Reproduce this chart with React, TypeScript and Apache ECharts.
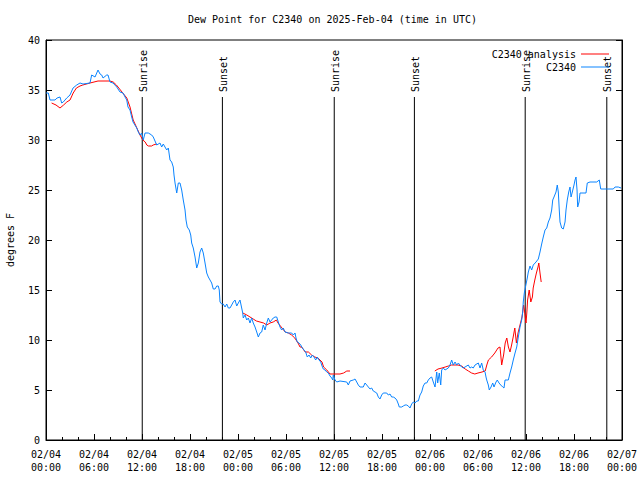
import React, { useEffect, useRef } from "react";
import * as echarts from "echarts";

// hours since 2025-02-04 00:00 UTC
const obsHours = [
  0.0, 0.29, 0.5, 1.13, 1.38, 1.75, 1.96, 2.16, 2.59, 3.0, 3.38, 3.84, 4.25, 4.63, 5.5, 5.71, 6.13, 6.5, 6.75, 6.96,
  7.13, 7.59, 7.75, 8.0, 8.38, 8.84, 9.25, 9.63, 9.88, 10.09, 10.25, 10.5, 10.71, 10.88, 11.34, 11.54, 11.75, 11.96,
  12.16, 12.38, 12.79, 13.21, 13.41, 13.84, 14.25, 14.46, 14.66, 15.09, 15.29, 15.5, 15.71, 15.91, 16.0, 16.13, 16.34,
  16.54, 16.75, 16.96, 17.16, 17.38, 17.5, 17.66, 17.91, 18.09, 18.21, 18.41, 18.63, 18.84, 19.04, 19.25, 19.46, 19.66,
  19.88, 20.09, 20.29, 20.5, 20.71, 20.91, 21.13, 21.34, 21.54, 21.66, 21.75, 21.96, 22.16, 22.38, 22.59, 22.79, 23.0,
  23.21, 23.41, 23.63, 23.84, 24.04, 24.25, 24.46, 24.59, 24.66, 24.88, 25.09, 25.29, 25.5, 25.71, 25.91, 26.13, 26.34,
  26.54, 26.75, 26.96, 27.16, 27.38, 27.59, 27.79, 28.0, 28.21, 28.41, 28.63, 28.84, 29.04, 29.25, 29.46, 29.66, 29.88,
  30.29, 30.71, 30.91, 31.13, 31.25, 31.41, 31.63, 31.84, 32.04, 32.25, 32.46, 32.66, 32.88, 33.09, 33.29, 33.5, 33.71,
  33.91, 34.13, 34.34, 34.46, 34.66, 34.88, 35.09, 35.29, 35.5, 35.71, 35.84, 35.91, 36.13, 36.34, 36.75, 37.59, 37.79,
  38.0, 38.41, 38.63, 38.84, 39.04, 39.25, 39.66, 39.88, 40.09, 40.29, 40.5, 40.71, 40.91, 41.13, 41.34, 41.54, 41.75,
  41.96, 42.16, 42.59, 42.79, 43.0, 43.21, 43.41, 43.63, 43.84, 44.04, 44.16, 44.46, 44.66, 44.88, 45.09, 45.29, 45.5,
  45.71, 45.91, 46.13, 46.34, 46.54, 46.75, 46.96, 47.16, 47.38, 47.59, 47.79, 48.0, 48.21, 48.41, 48.63, 48.84, 48.96,
  49.16, 49.34, 49.46, 49.66, 49.88, 50.29, 50.5, 50.71, 50.91, 51.13, 51.34, 51.54, 51.75, 51.96, 52.16, 52.38, 52.79,
  53.0, 53.21, 53.41, 53.63, 54.04, 54.25, 54.46, 54.66, 54.88, 55.0, 55.09, 55.29, 55.41, 55.63, 55.84, 56.0, 56.25,
  56.41, 56.63, 56.84, 57.09, 57.25, 57.38, 57.79, 58.0, 58.21, 58.41, 58.63, 58.84, 59.04, 59.25, 59.46, 59.59, 59.66,
  59.79, 59.96, 60.16, 60.29, 60.5, 60.71, 60.91, 61.25, 61.54, 61.75, 61.96, 62.16, 62.38, 62.59, 62.79, 63.0, 63.21,
  63.34, 63.5, 63.75, 63.91, 64.04, 64.16, 64.25, 64.46, 64.66, 64.88, 65.0, 65.16, 65.34, 65.5, 65.63, 65.79, 66.0,
  66.13, 66.25, 66.38, 66.46, 66.63, 66.75, 67.5, 67.66, 68.0, 68.84, 69.16, 69.34, 70.09, 70.91, 71.13, 71.54, 71.88,
];
const obsValues = [
  34.7, 34.7, 34.0, 34.0, 34.2, 34.3, 33.7, 33.8, 34.2, 34.5, 35.2, 35.5, 35.7, 35.6, 35.7, 36.5, 36.3, 37.0, 36.6, 36.5,
  36.2, 36.5, 36.5, 35.8, 35.7, 35.3, 34.8, 34.7, 34.3, 34.0, 33.3, 33.0, 32.3, 31.8, 31.2, 30.8, 30.5, 30.7,
  30.0, 30.7, 30.7, 30.5, 30.3, 29.5, 29.7, 29.3, 29.6, 29.0, 29.2, 28.0, 27.8, 27.3, 26.5, 25.7, 24.7,
  25.7, 25.7, 25.0, 24.0, 23.0, 22.0, 21.3, 21.0, 20.5, 19.7, 19.2, 18.3, 17.2, 17.7, 18.8, 19.2, 18.7,
  17.7, 16.7, 16.3, 16.0, 15.7, 15.1, 15.1, 15.4, 15.4, 15.0, 13.8, 13.6, 13.6, 13.3, 13.6, 13.2, 13.2,
  13.5, 13.8, 14.0, 13.4, 13.7, 14.0, 13.2, 12.7, 12.2, 12.5, 12.0, 12.2, 11.7, 12.2, 11.7, 11.3, 10.8,
  10.3, 10.7, 10.8, 11.5, 11.0, 11.7, 12.2, 11.8, 12.0, 12.2, 12.3, 12.3, 11.8, 11.3, 11.0, 11.2, 10.8,
  10.7, 10.7, 10.5, 10.7, 10.2, 9.8, 9.7, 9.5, 9.2, 9.0, 8.8, 8.3, 8.5, 8.2, 8.5, 8.3, 8.0,
  8.3, 8.0, 7.8, 7.5, 7.1, 7.0, 6.8, 6.7, 6.4, 6.2, 6.0, 6.5, 6.0, 5.8, 5.9, 5.8, 5.5,
  5.9, 6.0, 6.1, 5.8, 5.5, 5.3, 5.3, 5.7, 5.5, 5.3, 5.1, 5.2, 4.9, 4.8, 4.7, 4.3, 4.1,
  4.5, 4.7, 4.7, 4.5, 4.6, 4.3, 4.3, 4.2, 4.0, 3.6, 3.3, 3.3, 3.4, 3.5, 3.5, 3.4, 3.2,
  3.6, 3.8, 3.7, 3.9, 3.9, 4.5, 4.8, 5.4, 5.7, 5.7, 6.0, 6.2, 6.3, 5.8, 5.3, 6.8, 5.7,
  6.7, 5.5, 7.0, 7.2, 7.0, 7.2, 7.5, 8.0, 7.5, 7.8, 7.5, 7.7, 7.5, 7.3, 7.2, 7.3, 7.5,
  7.2, 7.3, 7.2, 7.5, 7.7, 7.2, 7.7, 7.0, 6.8, 6.3, 6.0, 5.5, 5.0, 5.3, 5.7, 5.3, 5.8,
  6.0, 5.7, 5.5, 5.3, 5.2, 6.0, 6.0, 6.7, 7.3, 8.0, 8.7, 9.3, 10.3, 11.3, 12.0, 12.8, 13.8,
  14.7, 15.4, 16.2, 16.8, 17.4, 17.0, 17.5, 17.8, 18.1, 18.8, 19.6, 20.3, 21.0, 21.2, 21.8, 22.2, 23.0,
  24.0, 24.3, 24.8, 25.5, 24.8, 23.0, 21.8, 21.2, 21.1, 21.8, 23.0, 24.0, 24.8, 25.3, 24.3, 24.8, 25.5,
  26.0, 26.3, 25.0, 23.3, 23.8, 24.7, 24.7, 25.7, 25.8, 25.8, 26.0, 25.1, 25.1, 25.1, 25.3, 25.3, 25.2,
];

const anaHours1 = [0.7, 1.25, 1.75, 2.2, 2.6, 3.0, 3.4, 3.8, 4.25, 4.6, 5.5, 6.5, 8.0, 8.4, 8.8, 9.5, 10.1, 10.5, 10.9, 11.3, 11.75, 12.1, 12.4, 12.6, 12.8, 13.2, 13.4, 13.8];
const anaValues1 = [33.7, 33.5, 33.2, 33.5, 33.8, 34.0, 34.7, 35.2, 35.4, 35.5, 35.7, 35.9, 35.9, 35.8, 35.5, 34.8, 34.2, 33.3, 32.0, 31.3, 30.5, 30.0, 29.8, 29.5, 29.4, 29.4, 29.5, 29.6];
const anaHours2 = [24.6, 25.1, 25.5, 25.9, 26.3, 26.75, 27.2, 27.6, 28.0, 28.4, 28.8, 29.0, 29.5, 29.9, 30.3, 30.7, 31.1, 31.5, 31.75, 31.96, 32.4, 32.8, 33.2, 33.6, 34.0, 34.5, 34.7, 35.1, 35.5, 36.75, 37.2, 37.6, 38.0];
const anaValues2 = [12.7, 12.5, 12.3, 12.1, 11.9, 11.8, 11.7, 11.5, 11.7, 11.8, 12.0, 11.7, 11.2, 10.8, 10.7, 10.5, 10.2, 9.7, 9.3, 9.3, 8.8, 8.8, 8.5, 8.3, 8.2, 7.8, 7.3, 7.0, 6.6, 6.6, 6.7, 6.9, 6.9];
const anaHours3 = [48.6, 49.0, 49.5, 49.9, 50.3, 50.7, 51.5, 51.96, 52.4, 52.8, 53.2, 53.6, 54.0, 54.5, 54.9, 55.1, 55.3, 55.7, 56.1, 56.5, 56.75, 56.96, 57.2, 57.4, 57.6, 57.8, 58.0, 58.2, 58.4, 58.6, 58.8, 59.0, 59.25, 59.5, 59.7, 59.8, 60.0, 60.1, 60.2, 60.4, 60.6, 60.8, 60.9, 61.1, 61.3, 61.5, 61.6, 61.75, 61.9];
const anaValues3 = [6.9, 7.1, 7.2, 7.3, 7.4, 7.5, 7.5, 7.4, 7.1, 6.9, 6.7, 6.6, 6.7, 6.8, 6.9, 7.5, 8.0, 8.3, 8.7, 9.2, 9.3, 7.5, 8.5, 9.7, 10.2, 9.3, 8.8, 9.5, 10.3, 11.2, 9.7, 10.7, 11.5, 12.3, 13.5, 13.0, 11.7, 12.7, 14.0, 15.0, 13.8, 14.3, 15.2, 16.0, 16.7, 17.3, 17.7, 16.7, 15.8];

const sunHours = [12.03, 22.05, 36.03, 46.05, 59.9, 70.1];
const sunNames = ["Sunrise", "Sunset", "Sunrise", "Sunset", "Sunrise", "Sunset"];
const dayLabels = ["02/04", "02/05", "02/06", "02/07"];

const TITLE = "Dew Point for C2340 on 2025-Feb-04 (time in UTC)";
const OBS_NAME = "C2340";
const ANA_NAME = "C2340 analysis";

const FONT = "DejaVu Sans Mono";
const RED = "#ff0000";
const BLUE = "#0a84ff";

const zip = (h: number[], v: number[]) => h.map((x, i) => [x, v[i]]);

export default function App() {
  const ref = useRef<HTMLDivElement>(null);
  useEffect(() => {
    if (!ref.current) return;
    const chart = echarts.init(ref.current, null, { renderer: "svg" });
    const textStyle = { fontFamily: FONT, fontSize: 10, color: "#000" };
    const anaSeries = [
      zip(anaHours1, anaValues1),
      zip(anaHours2, anaValues2),
      zip(anaHours3, anaValues3),
    ].map((d) => ({
      name: ANA_NAME,
      type: "line",
      data: d,
      symbol: "none",
      showSymbol: false,
      lineStyle: { color: RED, width: 1 },
      itemStyle: { color: RED },
    }));
    const legendCommon = {
      orient: "vertical",
      align: "right",
      right: 31,
      padding: 0,
      itemWidth: 28,
      itemHeight: 1,
      icon: "rect",
      selectedMode: false,
      textStyle,
    };
    chart.setOption({
      animation: false,
      backgroundColor: "#fff",
      title: {
        text: TITLE,
        left: 188,
        top: 14,
        padding: 0,
        textStyle: { fontFamily: FONT, fontSize: 10, fontWeight: "normal", color: "#000" },
      },
      legend: [
        { ...legendCommon, top: 49, data: [ANA_NAME] },
        { ...legendCommon, top: 62, data: [OBS_NAME] },
      ],
      grid: {
        left: 46,
        right: 18,
        top: 40,
        bottom: 40,
        show: true,
        borderColor: "#000",
        borderWidth: 1,
        containLabel: false,
        outerBoundsMode: "none",
      },
      xAxis: {
        type: "value",
        min: 0,
        max: 72,
        interval: 6,
        axisLine: { show: true, lineStyle: { color: "#000", width: 1 } },
        axisTick: { show: true, inside: true, length: 6, lineStyle: { color: "#000" } },
        minorTick: { show: true, splitNumber: 3, length: 3, lineStyle: { color: "#000" } },
        splitLine: { show: false },
        axisLabel: {
          ...textStyle,
          margin: 8,
          lineHeight: 13,
          showMinLabel: true,
          showMaxLabel: true,
          formatter: (v: number) => {
            const d = Math.floor(v / 24 + 1e-9);
            const hh = Math.round(v - d * 24);
            return dayLabels[d] + "\n" + String(hh).padStart(2, "0") + ":00";
          },
        },
      },
      yAxis: [
        {
          type: "value",
          min: 0,
          max: 40,
          interval: 5,
          name: "degrees F",
          nameLocation: "middle",
          nameGap: 31,
          nameTextStyle: textStyle,
          axisLine: { show: true, lineStyle: { color: "#000", width: 1 } },
          axisTick: { show: true, inside: true, length: 6, lineStyle: { color: "#000" } },
          splitLine: { show: false },
          axisLabel: { ...textStyle, margin: 6 },
        },
        {
          type: "value",
          position: "right",
          min: 0,
          max: 40,
          interval: 5,
          axisLine: { show: true, lineStyle: { color: "#000", width: 1 } },
          axisTick: { show: true, inside: true, length: 6, lineStyle: { color: "#000" } },
          splitLine: { show: false },
          axisLabel: { show: false },
        },
      ],
      series: [
        {
          type: "custom",
          name: "sun",
          data: sunHours.map((h, i) => [h, 20, i]),
          renderItem: (params: any, api: any) => {
            const h = api.value(0);
            const idx = api.value(2);
            const x = api.coord([h, 0])[0];
            const yBottom = api.coord([h, 0])[1];
            const yTop = api.coord([h, 34.3])[1];
            const yText = api.coord([h, 34.8])[1];
            return {
              type: "group",
              children: [
                {
                  type: "line",
                  shape: { x1: x, y1: yTop, x2: x, y2: yBottom },
                  style: { stroke: "#000", lineWidth: 1 },
                },
                {
                  type: "text",
                  x: x + 1,
                  y: yText,
                  rotation: Math.PI / 2,
                  style: {
                    text: sunNames[idx],
                    font: `10px "${FONT}"`,
                    fill: "#000",
                    align: "left",
                    verticalAlign: "middle",
                  },
                },
              ],
            };
          },
          clip: false,
          silent: true,
        },
        ...anaSeries,
        {
          name: OBS_NAME,
          type: "line",
          data: zip(obsHours, obsValues),
          symbol: "none",
          showSymbol: false,
          lineStyle: { color: BLUE, width: 1 },
          itemStyle: { color: BLUE },
        },
      ],
    });
    return () => chart.dispose();
  }, []);
  return <div ref={ref} style={{ width: 640, height: 480, position: "absolute", left: 0, top: 0 }} />;
}
